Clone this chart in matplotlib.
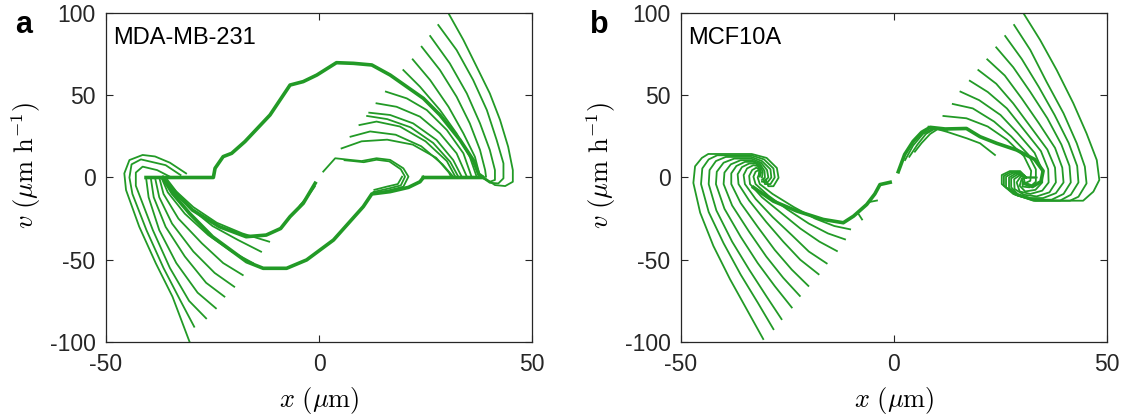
import numpy as np
import matplotlib.pyplot as plt

plt.rcParams['font.family'] = ['Liberation Sans', 'DejaVu Sans']
plt.rcParams['mathtext.fontset'] = 'cm'
plt.rcParams['axes.unicode_minus'] = False

green = '#229a26'

# ---- panel a: MDA-MB-231 trajectories (x in um, v in um/h) ----
a_fan_top = [
    [(30.4, 99.8), (33.9, 83.6), (37.0, 67.4), (40.1, 51.1), (42.5, 35.0), (44.4, 18.7), (45.5, 4.5), (45.5, -2.6), (43.7, -5.2), (41.3, -4.6), (39.0, -0.5)],
    [(28.0, 92.7), (32.3, 77.5), (36.2, 59.2), (39.4, 41.0), (41.7, 22.8), (43.3, 8.6), (43.3, -0.5), (42.1, -3.6), (40.1, -3.2), (38.6, -0.5)],
    [(26.1, 86.0), (30.7, 69.4), (34.7, 51.1), (37.8, 32.9), (40.1, 16.7), (41.3, 4.5), (41.3, -1.5), (40.1, -2.6), (38.6, -0.5)],
    [(24.1, 79.5), (28.4, 65.3), (32.3, 49.1), (35.4, 32.9), (37.8, 16.7), (39.0, 4.5), (39.2, 0.5)],
    [(22.0, 71.8), (26.1, 59.2), (30.4, 43.0), (33.9, 26.8), (36.6, 12.6), (37.8, 0.5)],
    [(19.8, 65.3), (23.7, 55.2), (28.4, 41.0), (32.3, 26.8), (35.4, 12.6), (37.0, 0.5)],
    [(15.7, 52.2), (20.6, 48.1), (25.3, 41.0), (30.0, 28.9), (33.9, 14.7), (35.8, 0.5)],
    [(13.5, 45.1), (18.2, 43.0), (23.7, 37.0), (28.4, 26.8), (32.3, 14.7), (34.7, 0.5)],
    [(11.8, 39.4), (16.7, 38.0), (22.1, 32.9), (27.6, 22.8), (31.5, 10.6), (33.5, 0.5)],
    [(11.3, 37.4), (16.0, 35.5), (21.5, 30.5), (26.8, 21.0), (30.8, 9.5), (32.7, 0.5)],
    [(9.5, 31.9), (13.5, 34.0), (19.0, 31.0), (25.0, 22.0), (30.0, 10.0), (32.0, 0.5)],
    [(7.4, 24.8), (12.0, 28.0), (18.0, 26.0), (24.0, 19.0), (29.0, 8.0), (31.5, 0.5)],
    [(5.3, 17.7), (10.0, 22.0), (16.0, 23.0), (22.0, 20.0), (27.5, 12.0), (30.5, 3.0), (31.0, 0.5)],
]

a_fan_bottom = [
    [(-31.2, 2.5), (-35.0, 9.0), (-38.5, 12.8), (-41.4, 13.7), (-44.5, 10.6), (-45.7, 2.5), (-45.3, -7.6), (-42.2, -29.9), (-38.3, -52.2), (-34.4, -72.4), (-30.4, -99.8)],
    [(-32.5, 1.5), (-36.0, 7.5), (-41.8, 11.0), (-44.0, 8.0), (-44.5, 0.0), (-43.8, -10.0), (-40.5, -32.0), (-36.5, -55.0), (-32.5, -75.0), (-29.3, -90.7)],
    [(-35.0, 0.5), (-38.0, 4.5), (-41.4, 6.6), (-43.0, 3.0), (-43.0, -5.0), (-39.0, -32.0), (-35.0, -55.0), (-30.5, -75.0), (-26.5, -85.6)],
    [(-40.6, 0.0), (-40.0, -12.0), (-37.5, -32.0), (-33.5, -52.0), (-28.5, -70.0), (-24.2, -79.5)],
    [(-39.5, 0.0), (-38.8, -12.0), (-36.0, -30.0), (-31.5, -48.0), (-26.5, -64.0), (-22.2, -72.4)],
    [(-38.5, 0.0), (-37.5, -12.0), (-34.5, -28.0), (-29.5, -45.0), (-24.5, -58.0), (-19.9, -66.4)],
    [(-37.5, 0.0), (-36.5, -10.0), (-33.0, -25.0), (-27.5, -40.0), (-22.5, -52.0), (-17.9, -59.3)],
    [(-37.0, 0.0), (-35.5, -9.0), (-31.5, -22.0), (-26.0, -35.0), (-20.5, -45.0), (-15.5, -52.0)],
    [(-36.5, 0.0), (-34.0, -9.0), (-30.0, -19.0), (-25.0, -29.5), (-19.0, -38.0), (-13.6, -45.1)],
    [(-36.0, 0.0), (-33.5, -8.5), (-29.5, -18.0), (-24.0, -27.5), (-18.0, -34.0), (-11.7, -39.0)],
]

a_thick = [
    [(-40.6, 0.0), (-24.8, 0.0), (-24.4, 5.6), (-22.5, 12.7), (-20.5, 14.7), (-17.4, 21.8), (-11.5, 38.0), (-6.8, 56.2), (-3.7, 58.3), (-0.5, 62.3), (4.1, 69.8), (8.1, 69.4), (12.4, 68.4), (16.7, 62.3), (20.6, 55.2), (24.5, 48.1), (28.4, 38.0), (33.1, 22.8), (36.2, 10.6), (37.5, 2.0), (38.6, 0.0), (24.5, 0.0)],
    [(24.5, 0.0), (23.7, -2.6), (21.0, -6.0), (16.7, -8.6), (12.4, -10.0), (10.4, -17.7), (3.4, -38.0), (-2.9, -50.1), (-7.6, -55.2), (-13.1, -55.2), (-17.0, -51.2), (-25.0, -36.0), (-30.4, -21.8), (-34.4, -9.6), (-36.7, 0.0)],
    [(-36.3, -1.5), (-33.0, -11.0), (-29.7, -19.8), (-23.4, -29.9), (-17.1, -36.0), (-12.4, -35.0), (-9.0, -31.0), (-6.8, -23.8), (-3.7, -15.7), (-0.9, -3.5)],
]

a_inner = [
    [(1.0, 3.6), (3.8, 11.7), (7.3, 10.7), (10.0, 10.0), (13.5, 11.7), (16.7, 10.7), (19.8, 5.6), (21.0, 0.5), (19.8, -5.6), (16.7, -7.6), (12.4, -10.0)],
    [(6.0, 10.5), (8.0, 10.0), (10.5, 9.3), (13.5, 10.8), (16.5, 9.8), (19.2, 5.0), (20.2, 0.5), (19.2, -4.8), (16.5, -6.6), (12.8, -8.8)],
    [(19.5, 0.5), (18.5, -4.0), (16.0, -5.5), (13.0, -7.5)],
    [(-4.5, -17.0), (-2.5, -11.0), (-1.0, -5.5)],
]

# ---- panel b: MCF10A trajectories ----
b_fan_right = [
    [(30.4, 99.8), (34.3, 83.6), (38.2, 65.3), (42.1, 45.1), (45.2, 26.8), (47.6, 10.6), (48.2, -1.5), (46.8, -8.6), (44.4, -14.1), (32.7, -14.1), (28.0, -10.0), (25.3, -4.0), (25.3, 1.5), (27.2, 3.9), (29.6, 3.9), (31.1, 0.0), (33.5, 0.0)],
    [(28.2, 92.7), (32.0, 77.5), (35.8, 58.2), (39.8, 39.0), (42.9, 20.8), (44.8, 6.6), (45.2, -3.6), (43.3, -11.7), (41.3, -14.1), (33.0, -14.1), (28.5, -10.5), (25.8, -5.0), (25.8, 1.0), (27.5, 3.3), (29.5, 3.3), (31.0, 0.0), (33.0, 0.0)],
    [(26.1, 86.0), (30.0, 72.0), (34.0, 55.0), (37.7, 38.0), (41.0, 21.0), (43.0, 7.0), (43.3, -3.0), (41.5, -10.5), (39.0, -14.0), (33.3, -14.0), (29.0, -11.0), (26.3, -6.0), (26.3, 0.5), (28.0, 2.8), (29.8, 2.5), (31.0, 0.0)],
    [(24.0, 79.1), (28.0, 67.0), (32.0, 52.0), (36.0, 36.0), (39.3, 20.0), (41.2, 7.0), (41.5, -3.0), (39.8, -10.0), (37.0, -13.5), (33.5, -13.5), (29.5, -11.0), (27.0, -6.5), (27.0, 0.0), (28.5, 2.3), (30.0, 2.0), (31.0, 0.0)],
    [(21.9, 71.8), (26.0, 62.0), (30.0, 48.0), (34.0, 33.0), (37.8, 18.0), (39.5, 6.0), (39.8, -3.0), (38.0, -9.5), (35.0, -12.5), (32.0, -12.5), (29.0, -10.0), (27.5, -6.0), (27.5, -0.5), (29.0, 1.8), (30.5, 1.5), (31.0, 0.0)],
    [(19.8, 65.3), (24.0, 57.0), (28.0, 45.0), (32.0, 31.0), (36.0, 17.0), (37.8, 6.0), (38.0, -3.0), (36.5, -9.0), (33.5, -11.5), (30.5, -10.5), (28.3, -7.0), (28.2, -1.0), (29.5, 1.3), (31.0, 0.0)],
    [(17.8, 58.8), (22.0, 52.0), (26.5, 42.0), (30.5, 29.0), (34.5, 16.0), (36.2, 5.0), (36.3, -3.0), (34.8, -8.0), (32.0, -10.0), (29.5, -8.5), (28.8, -3.0), (29.8, 0.8), (31.0, 0.0)],
    [(15.6, 52.2), (20.0, 47.0), (25.0, 38.0), (29.0, 27.0), (33.0, 15.0), (34.7, 5.0), (34.8, -3.0), (33.2, -7.5), (30.8, -8.5), (29.5, -5.0), (30.0, -0.5), (31.0, 0.0)],
    [(13.8, 44.7), (18.5, 42.0), (23.5, 34.0), (27.5, 25.0), (31.5, 14.0), (33.3, 5.0), (33.3, -2.5), (31.8, -6.0), (30.2, -5.5), (30.2, -1.0), (31.0, 0.0)],
    [(11.6, 37.4), (17.0, 36.0), (22.0, 31.0), (26.5, 23.0), (30.5, 13.0), (32.2, 4.0), (32.0, -2.0), (30.7, -3.5), (30.5, -0.5)],
]

b_fan_left = [
    [(-30.7, -98.2), (-34.6, -80.0), (-38.5, -61.8), (-42.4, -41.6), (-45.5, -21.4), (-47.1, -3.3), (-46.7, 6.8), (-45.1, 11.9), (-43.6, 14.3), (-33.4, 14.3), (-29.9, 11.9), (-27.5, 5.8), (-27.1, -0.2), (-28.3, -5.3), (-29.5, -5.3), (-30.1, -1.2)],
    [(-28.3, -92.2), (-32.0, -76.0), (-36.0, -59.0), (-40.0, -40.0), (-43.5, -21.0), (-45.3, -4.0), (-45.0, 5.5), (-43.5, 11.0), (-41.5, 13.5), (-33.5, 13.5), (-30.5, 11.0), (-28.3, 5.5), (-28.0, 0.0), (-29.0, -4.0), (-30.3, -4.0), (-30.6, -1.0)],
    [(-26.4, -86.1), (-30.0, -72.0), (-34.0, -56.0), (-38.0, -39.0), (-41.7, -20.0), (-43.5, -4.0), (-43.3, 4.5), (-41.8, 10.0), (-39.5, 12.5), (-33.5, 12.5), (-31.0, 10.0), (-29.0, 5.0), (-28.8, 0.0), (-29.7, -3.0), (-31.0, -2.5)],
    [(-24.0, -79.0), (-28.0, -66.0), (-32.0, -52.0), (-36.0, -36.0), (-39.8, -19.0), (-41.8, -4.0), (-41.6, 3.5), (-40.0, 9.0), (-37.5, 11.5), (-33.5, 11.5), (-31.2, 9.0), (-29.8, 4.5), (-29.5, 0.0), (-30.5, -2.5)],
    [(-22.1, -72.0), (-26.0, -61.0), (-30.0, -48.0), (-34.0, -33.0), (-38.0, -17.0), (-40.0, -4.0), (-39.8, 3.0), (-38.3, 8.0), (-36.0, 10.5), (-33.5, 10.5), (-31.5, 8.5), (-30.4, 4.0), (-30.3, 0.0), (-31.0, -1.5)],
    [(-20.1, -65.9), (-24.0, -56.0), (-28.0, -44.0), (-32.0, -30.0), (-36.0, -15.5), (-38.2, -4.0), (-38.2, 2.5), (-37.0, 7.0), (-35.0, 9.5), (-33.0, 9.5), (-31.5, 7.5), (-30.8, 3.5), (-31.0, 0.0)],
    [(-17.7, -58.8), (-22.0, -50.0), (-26.0, -39.0), (-30.0, -27.0), (-34.0, -14.0), (-36.5, -4.0), (-36.7, 2.0), (-35.7, 6.3), (-34.0, 8.5), (-32.5, 8.5), (-31.5, 6.5), (-31.2, 3.0), (-31.5, 0.5)],
    [(-15.8, -52.2), (-20.0, -45.0), (-24.0, -35.0), (-28.5, -24.0), (-32.5, -13.0), (-35.0, -4.0), (-35.3, 1.5), (-34.5, 5.5), (-33.0, 7.5), (-32.0, 7.0), (-31.5, 4.5), (-31.7, 1.5)],
    [(-13.4, -44.7), (-17.5, -39.0), (-22.0, -31.0), (-26.5, -21.5), (-31.0, -12.0), (-33.8, -4.0), (-34.0, 1.0), (-33.3, 4.5), (-32.3, 6.0), (-31.5, 4.5), (-31.7, 2.0)],
    [(-11.5, -37.6), (-15.5, -34.0), (-20.0, -28.0), (-25.0, -19.5), (-29.5, -11.0), (-32.5, -4.0), (-33.0, 0.5), (-32.5, 3.5), (-31.8, 4.5), (-31.4, 3.0)],
    [(-10.3, -31.5), (-14.0, -29.5), (-18.5, -25.0), (-23.5, -18.0), (-28.5, -10.0), (-31.5, -4.0), (-32.0, 0.0), (-31.6, 2.5)],
]

b_thick = [
    [(-33.0, -6.0), (-28.3, -14.4), (-22.8, -20.4), (-16.6, -25.5), (-11.9, -27.5), (-9.5, -23.5), (-6.4, -16.4), (-4.5, -10.0), (-3.3, -4.3), (-0.9, -2.9)],
    [(1.0, 3.5), (2.5, 14.0), (4.5, 22.0), (6.5, 27.5), (8.5, 30.5), (12.0, 29.5), (17.0, 29.8), (20.2, 24.8), (24.1, 20.8), (28.8, 16.7), (33.0, 11.0), (35.0, 4.0), (34.5, -2.5), (32.5, -5.5), (30.5, -3.5)],
]

b_thin = [
    [(2.6, 10.6), (4.5, 19.5), (6.8, 26.5), (9.0, 29.5), (12.5, 29.0)],
    [(3.6, 12.6), (5.5, 20.0), (7.5, 26.5), (9.5, 29.5)],
    [(4.9, 15.7), (6.5, 21.0), (8.5, 26.5), (10.0, 29.0)],
    [(8.1, 30.9), (12.4, 27.8), (17.1, 23.8), (20.2, 20.8), (23.7, 13.7)],
    [(-8.5, -21.5), (-7.5, -25.5)],
    [(-6.0, -15.0), (-4.0, -14.0)],
]

panels = [
    ('a', 'MDA-MB-231', a_fan_top + a_fan_bottom + a_inner, a_thick, 0.0),
    ('b', 'MCF10A', b_fan_right + b_fan_left + b_thin, b_thick, 575),
]

fig = plt.figure(figsize=(11.29, 4.19), dpi=100)
W, H = 1129, 419

for letter, name, thin, thick, dx in panels:
    ax = fig.add_axes([(106 + dx) / W, 77 / H, 426 / W, 329 / H])
    for seg in thin:
        xs, ys = zip(*seg)
        ax.plot(xs, ys, color=green, lw=1.3, solid_joinstyle='round')
    for seg in thick:
        xs, ys = zip(*seg)
        ax.plot(xs, ys, color=green, lw=2.6, solid_joinstyle='round')
    ax.set_xlim(-50, 50)
    ax.set_ylim(-100, 100)
    ax.set_xticks([-50, 0, 50])
    ax.set_yticks([-100, -50, 0, 50, 100])
    ax.tick_params(direction='in', top=True, right=True, length=5, width=0.8,
                   labelsize=16.5, colors='#262626')
    ax.tick_params(axis='x', pad=8)
    ax.tick_params(axis='y', pad=7.5)
    for sp in ax.spines.values():
        sp.set_linewidth(0.9)
        sp.set_color('#262626')
    ax.text(0.017, 0.957, name, transform=ax.transAxes, ha='left', va='top',
            fontsize=17)
    fig.text((24 + dx) / W, 1 - 33 / H, letter, fontsize=22, fontweight='bold',
             ha='center', va='baseline')
    fig.text((319 + dx) / W, 1 - 400 / H, r'$x\ (\mu\mathrm{m})$', fontsize=19,
             ha='center', va='center')
    fig.text((26 + dx) / W, 1 - 165 / H, r'$v\ (\mu\mathrm{m\ h}^{-1})$',
             fontsize=19, ha='center', va='center', rotation=90)

fig.savefig('out.png', dpi=100)
